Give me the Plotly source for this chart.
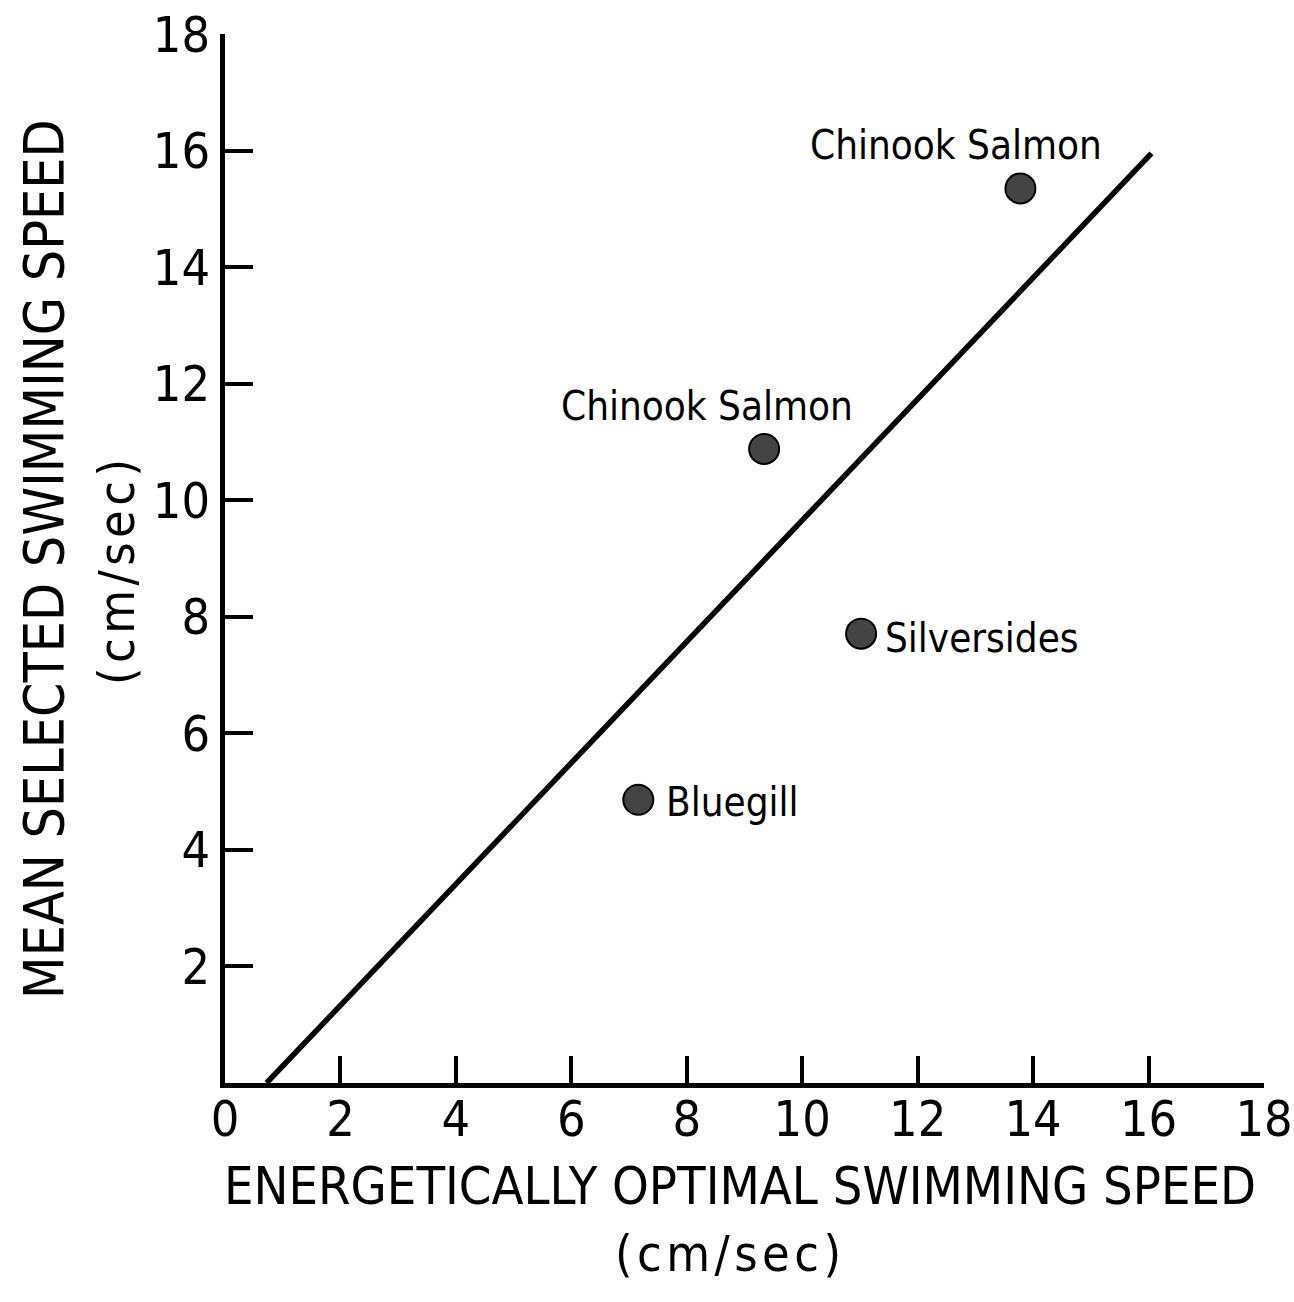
import plotly.graph_objects as go

# Data
species = ["Chinook Salmon", "Chinook Salmon", "Silversides", "Bluegill"]
optimal_speed = [13.78, 9.34, 11.02, 7.16]
selected_speed = [15.35, 10.88, 7.71, 4.86]

fit_x = [0.72, 16.05]
fit_y = [0.0, 15.95]

x_tickvals = [0, 2, 4, 6, 8, 10, 12, 14, 16, 18]
y_tickvals = [2, 4, 6, 8, 10, 12, 14, 16, 18]

FONT = "DejaVu Sans Condensed, Liberation Sans Narrow, sans-serif"

W, H = 1294, 1302
L, R, T, B = 225, 30, 34, 219

fig = go.Figure()

fig.add_trace(go.Scatter(
    x=fit_x, y=fit_y, mode="lines",
    line=dict(color="black", width=5.5),
    showlegend=False, hoverinfo="skip",
))

fig.add_trace(go.Scatter(
    x=optimal_speed, y=selected_speed, mode="markers",
    marker=dict(size=30, color="#444444", line=dict(color="black", width=2)),
    showlegend=False,
))

# label offsets (pixels) relative to each point
label_style = [
    dict(xshift=-64, yshift=43, xanchor="center"),
    dict(xshift=-57, yshift=43, xanchor="center"),
    dict(xshift=22, yshift=-4, xanchor="left"),
    dict(xshift=26, yshift=-2, xanchor="left"),
]
for name, xv, yv, st in zip(species, optimal_speed, selected_speed, label_style):
    fig.add_annotation(
        x=xv, y=yv, text=name, showarrow=False,
        font=dict(family=FONT, size=40, color="black"),
        yanchor="middle", **st,
    )

pw = W - L - R
ph = H - T - B

def px_to_paper_x(px):
    return (px - L) / pw

def px_to_paper_y(py):
    return (H - B - py) / ph

units = "(\u200ac\u200am\u200a/\u200as\u200ae\u200ac\u200a)"

fig.add_annotation(
    xref="paper", yref="paper", x=px_to_paper_x(740), y=px_to_paper_y(1186),
    text="ENERGETICALLY OPTIMAL SWIMMING SPEED", showarrow=False,
    font=dict(family=FONT, size=52, color="black"), xanchor="center", yanchor="middle",
)
fig.add_annotation(
    xref="paper", yref="paper", x=px_to_paper_x(728), y=px_to_paper_y(1254),
    text=units, showarrow=False,
    font=dict(family=FONT, size=50, color="black"), xanchor="center", yanchor="middle",
)
fig.add_annotation(
    xref="paper", yref="paper", x=px_to_paper_x(44), y=px_to_paper_y(559),
    text="MEAN SELECTED SWIMMING SPEED", showarrow=False, textangle=-90,
    font=dict(family=FONT, size=55, color="black"), xanchor="center", yanchor="middle",
)
fig.add_annotation(
    xref="paper", yref="paper", x=px_to_paper_x(117), y=px_to_paper_y(572),
    text=units, showarrow=False, textangle=-90,
    font=dict(family=FONT, size=50, color="black"), xanchor="center", yanchor="middle",
)

fig.update_xaxes(
    range=[0, 18], tickvals=x_tickvals, ticktext=[str(v) for v in x_tickvals],
    ticks="inside", ticklen=27, tickwidth=4, tickcolor="black",
    showline=True, linewidth=5, linecolor="black",
    showgrid=False, zeroline=False, automargin=False,
    tickfont=dict(family=FONT, size=50, color="black"),
    ticklabelstandoff=-12,
)
fig.update_yaxes(
    range=[0, 18], tickvals=y_tickvals, ticktext=[str(v) for v in y_tickvals],
    ticks="inside", ticklen=28, tickwidth=4, tickcolor="black",
    showline=True, linewidth=5, linecolor="black",
    showgrid=False, zeroline=False, automargin=False,
    tickfont=dict(family=FONT, size=50, color="black"),
    ticklabelstandoff=0,
)

fig.update_layout(
    width=W, height=H,
    margin=dict(l=L, r=R, t=T, b=B),
    plot_bgcolor="white", paper_bgcolor="white",
    showlegend=False,
)

fig.write_html("out.html")
